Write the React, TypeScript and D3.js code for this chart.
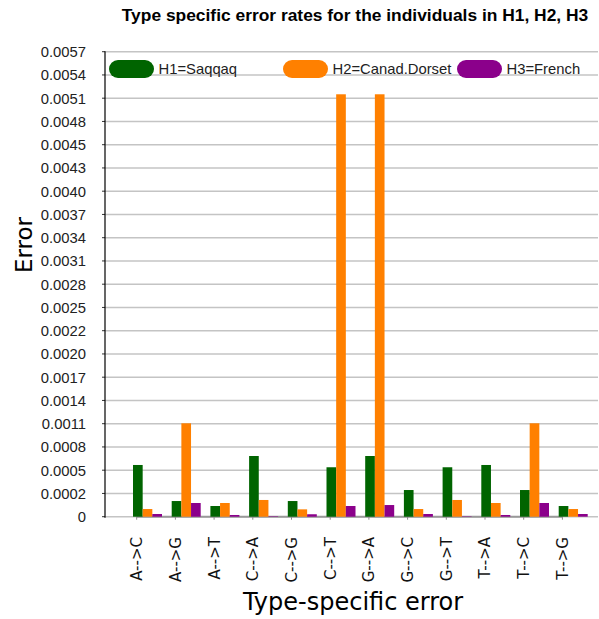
import React, { useEffect, useRef } from 'react';
import * as d3 from 'd3';

const categories = ['A-->C', 'A-->G', 'A-->T', 'C-->A', 'C-->G', 'C-->T', 'G-->A', 'G-->C', 'G-->T', 'T-->A', 'T-->C', 'T-->G'];
const seriesNames = ['H1=Saqqaq', 'H2=Canad.Dorset', 'H3=French'];
const saqqaq = [0.000634, 0.000192, 0.000131, 0.000744, 0.000192, 0.000606, 0.000744, 0.000327, 0.000606, 0.000634, 0.000327, 0.000131];
const dorset = [0.000094, 0.001145, 0.000168, 0.000205, 0.00009, 0.005178, 0.005178, 0.000094, 0.000205, 0.000168, 0.001145, 0.000094];
const french = [0.000033, 0.000168, 0.000021, 0.000006, 0.00003, 0.000131, 0.000143, 0.000033, 0.000005, 0.000021, 0.000168, 0.000033];
const yMax = 0.0057;
const yTickLabels = ['0', '0.0002', '0.0005', '0.0008', '0.0011', '0.0014', '0.0017', '0.0020', '0.0022', '0.0025', '0.0028', '0.0031', '0.0034', '0.0037', '0.0040', '0.0043', '0.0045', '0.0048', '0.0051', '0.0054', '0.0057'];
const colors = ['#006400', '#ff8000', '#8b008b'];

const App = () => {
    const ref = useRef<SVGSVGElement>(null);
    const width = 599;
    const height = 619;

    useEffect(() => {
        document.body.style.margin = '0';
        const svg = d3.select(ref.current);
        svg.selectAll('*').remove();

        const left = 105, right = 598, top = 51.7, bottom = 516.7;
        const step = 38.7;

        // scales
        const y = d3.scaleLinear().domain([0, yMax]).range([bottom, top]);
        const x = d3.scaleBand()
            .domain(categories)
            .range([136.7 - step / 2, 136.7 - step / 2 + step * categories.length])
            .padding(0);
        const xs = d3.scaleBand().domain(seriesNames).range([0, 29]);

        const data = [saqqaq, dorset, french];
        const yTicks = yTickLabels.map((_, i) => (i * yMax) / (yTickLabels.length - 1));

        // gridlines
        svg.append('g')
            .selectAll('line')
            .data(yTicks)
            .enter().append('line')
            .attr('x1', left)
            .attr('x2', right)
            .attr('y1', d => y(d))
            .attr('y2', d => y(d))
            .attr('stroke', '#c4c4c4')
            .attr('stroke-width', 1.5);

        // y tick marks + labels
        const yAxis = svg.append('g');
        yAxis.selectAll('line')
            .data(yTicks)
            .enter().append('line')
            .attr('x1', left - 3)
            .attr('x2', left)
            .attr('y1', d => y(d))
            .attr('y2', d => y(d))
            .attr('stroke', '#333');
        yAxis.selectAll('text')
            .data(yTicks)
            .enter().append('text')
            .attr('x', 86)
            .attr('y', d => y(d))
            .attr('dy', '0.36em')
            .attr('text-anchor', 'end')
            .attr('font-family', 'Liberation Sans, Arial, sans-serif')
            .attr('font-size', 14.8)
            .attr('fill', '#222')
            .text((_, i) => yTickLabels[i]);

        // x axis line and ticks
        svg.append('line')
            .attr('x1', x(categories[0])! + x.bandwidth() / 2)
            .attr('x2', x(categories[categories.length - 1])! + x.bandwidth() / 2)
            .attr('y1', bottom)
            .attr('y2', bottom)
            .attr('stroke', '#999')
            .attr('stroke-width', 2);
        svg.append('g')
            .selectAll('line')
            .data(categories)
            .enter().append('line')
            .attr('x1', d => x(d)! + x.bandwidth() / 2)
            .attr('x2', d => x(d)! + x.bandwidth() / 2)
            .attr('y1', bottom)
            .attr('y2', bottom + 3)
            .attr('stroke', '#888');

        // bars
        const groups = svg.append('g')
            .selectAll('g')
            .data(categories)
            .enter().append('g')
            .attr('transform', d => `translate(${x(d)! + x.bandwidth() / 2 - 3.7},0)`);
        groups.selectAll('rect')
            .data((_, i) => data.map((s, j) => ({ name: seriesNames[j], value: s[i], color: colors[j] })))
            .enter().append('rect')
            .attr('x', d => xs(d.name)!)
            .attr('width', xs.bandwidth())
            .attr('y', d => y(d.value))
            .attr('height', d => bottom - y(d.value))
            .attr('fill', d => d.color);

        // left axis line
        svg.append('line')
            .attr('x1', left)
            .attr('x2', left)
            .attr('y1', top - 0.5)
            .attr('y2', bottom + 1)
            .attr('stroke', '#000')
            .attr('stroke-width', 1.2);

        // x labels
        svg.append('g')
            .selectAll('text')
            .data(categories)
            .enter().append('text')
            .attr('transform', d => `translate(${x(d)! + x.bandwidth() / 2},537) rotate(-90)`)
            .attr('dy', '0.36em')
            .attr('text-anchor', 'end')
            .attr('font-family', 'DejaVu Sans, sans-serif')
            .attr('font-size', 15)
            .attr('fill', '#111')
            .text(d => d);

        // legend
        const legendX = [109, 283, 457];
        const legend = svg.append('g')
            .selectAll('g')
            .data(seriesNames)
            .enter().append('g')
            .attr('transform', (_, i) => `translate(${legendX[i]},60)`);
        legend.append('rect')
            .attr('width', 45)
            .attr('height', 18)
            .attr('rx', 9)
            .attr('fill', (_, i) => colors[i]);
        legend.append('text')
            .attr('x', 49.5)
            .attr('y', 9)
            .attr('dy', '0.36em')
            .attr('font-family', 'Liberation Sans, Arial, sans-serif')
            .attr('font-size', 14.8)
            .attr('fill', '#222')
            .text(d => d);

        // titles
        svg.append('text')
            .attr('x', 355)
            .attr('y', 21)
            .attr('text-anchor', 'middle')
            .attr('font-family', 'Liberation Sans, Arial, sans-serif')
            .attr('font-weight', 'bold')
            .attr('font-size', 17.4)
            .text('Type specific error rates for the individuals in H1, H2, H3');
        svg.append('text')
            .attr('transform', 'translate(32,245) rotate(-90)')
            .attr('text-anchor', 'middle')
            .attr('font-family', 'DejaVu Sans, sans-serif')
            .attr('font-size', 23)
            .text('Error');
        svg.append('text')
            .attr('x', 353)
            .attr('y', 610)
            .attr('text-anchor', 'middle')
            .attr('font-family', 'DejaVu Sans, sans-serif')
            .attr('font-size', 24)
            .text('Type-specific error');
    }, []);

    return (
        <svg ref={ref} width={width} height={height} style={{ display: 'block' }}></svg>
    );
};

export default App;
